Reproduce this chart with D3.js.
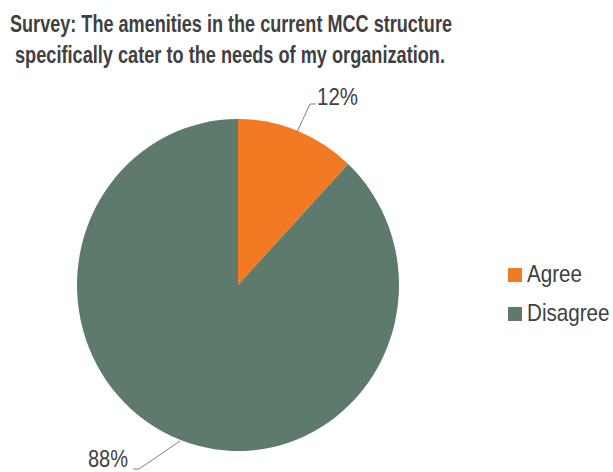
<!DOCTYPE html>
<html>
<head>
<meta charset="utf-8">
<script src="https://cdn.jsdelivr.net/npm/d3@7"></script>
<style>
  body { margin: 0; background: #fff; }
  text { font-family: "Liberation Sans", Arial, sans-serif; }
</style>
</head>
<body>
<div id="chart"></div>
<script>
var categories = ['Agree', 'Disagree'];
var values = [12, 88];
var labels = ['12%', '88%'];
var colors = ['#F27A22', '#5E7A6D'];
var titleLines = ['Survey: The amenities in the current MCC structure',
                  'specifically cater to the needs of my organization.'];

var width = 613, height = 472;
var cx = 238, cy = 285, rx = 161, ry = 166;

var svg = d3.select('#chart').append('svg')
  .attr('width', width)
  .attr('height', height);

// narrow font look: squeeze text to the reference widths
var titlePos = [{ x: 10, w: 442 }, { x: 15, w: 430 }];

svg.selectAll('.title')
  .data(titleLines)
  .enter().append('text')
  .attr('class', 'title')
  .attr('x', function(d, i) { return titlePos[i].x; })
  .attr('y', function(d, i) { return 32 + i * 31; })
  .attr('font-size', 24)
  .attr('font-weight', 'bold')
  .attr('fill', '#404040')
  .attr('textLength', function(d, i) { return titlePos[i].w; })
  .attr('lengthAdjust', 'spacingAndGlyphs')
  .text(function(d) { return d; });

var pie = d3.pie().sort(null).value(function(d) { return d; });
var arcs = pie(values);
var arc = d3.arc().innerRadius(0).outerRadius(ry);

var g = svg.append('g')
  .attr('transform', 'translate(' + cx + ',' + cy + ') scale(' + (rx / ry) + ',1)');

g.selectAll('path')
  .data(arcs)
  .enter().append('path')
  .attr('d', arc)
  .attr('fill', function(d, i) { return colors[i]; });

// leader lines + labels
var leaders = [
  { pts: [[297, 132], [310, 104], [316, 104]], tx: 317, ty: 105, w: 41 },
  { pts: [[180, 441], [139, 469], [133, 469]], tx: 88, ty: 467, w: 40 }
];

svg.selectAll('.leader')
  .data(leaders)
  .enter().append('path')
  .attr('class', 'leader')
  .attr('d', function(d) { return d3.line()(d.pts); })
  .attr('fill', 'none')
  .attr('stroke', '#808080')
  .attr('stroke-width', 1);

svg.selectAll('.lbl')
  .data(leaders)
  .enter().append('text')
  .attr('class', 'lbl')
  .attr('x', function(d) { return d.tx; })
  .attr('y', function(d) { return d.ty; })
  .attr('font-size', 24)
  .attr('fill', '#404040')
  .attr('textLength', function(d) { return d.w; })
  .attr('lengthAdjust', 'spacingAndGlyphs')
  .text(function(d, i) { return labels[i]; });

// legend
var legend = svg.selectAll('.legend')
  .data(categories)
  .enter().append('g')
  .attr('class', 'legend')
  .attr('transform', function(d, i) { return 'translate(508,' + (268 + i * 39) + ')'; });

legend.append('rect')
  .attr('width', 14)
  .attr('height', 14)
  .attr('fill', function(d, i) { return colors[i]; });

// squeeze horizontally with a transform instead of textLength
legend.append('text')
  .attr('transform', 'translate(19,14) scale(0.86,1)')
  .attr('font-size', 24)
  .attr('fill', '#404040')
  .text(function(d) { return d; });
</script>
</body>
</html>
